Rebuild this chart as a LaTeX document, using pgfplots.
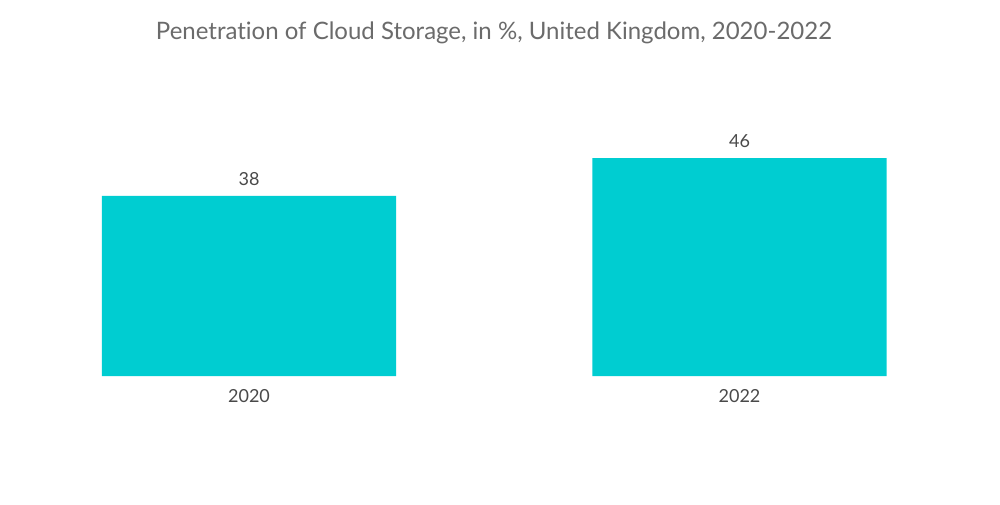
\documentclass[border=0pt]{standalone}
\usepackage{pgfplots}
\pgfplotsset{compat=1.18}
\usepackage{fontspec}
\setmainfont{Lato}[Ligatures={NoCommon}]
\definecolor{barc}{HTML}{00CDD1}
\definecolor{titlec}{HTML}{6B6B6B}
\definecolor{labc}{HTML}{4A4A4A}
\begin{document}
\begin{tikzpicture}[x=1pt,y=1pt]
\path[fill=white] (0,0) rectangle (750,378);
\node[text=titlec, font=\fontsize{18}{20}\selectfont, anchor=center] at (370.5,353) {Penetration of Cloud Storage, in \%, United Kingdom, 2020-2022};
\begin{axis}[
  at={(76.39pt,96pt)}, anchor=south west,
  scale only axis,
  width=588.6pt, height=163.5pt,
  xmin=-0.3, xmax=1.3, ymin=0, ymax=46,
  axis lines=none,
  xtick=\empty, ytick=\empty,
  clip=false,
  ybar, bar width=0.6,
  nodes near coords,
  /pgf/number format/assume math mode=true,
  every node near coord/.append style={text=labc, font=\fontsize{13.5}{15}\selectfont, yshift=4pt},
]
\addplot[fill=barc, draw=none] coordinates {(0,38) (1,46)};
\node[text=labc, font=\fontsize{13.5}{15}\selectfont] at (axis cs:0,0) [yshift=-15pt] {2020};
\node[text=labc, font=\fontsize{13.5}{15}\selectfont] at (axis cs:1,0) [yshift=-15pt] {2022};
\end{axis}
\end{tikzpicture}
\end{document}
